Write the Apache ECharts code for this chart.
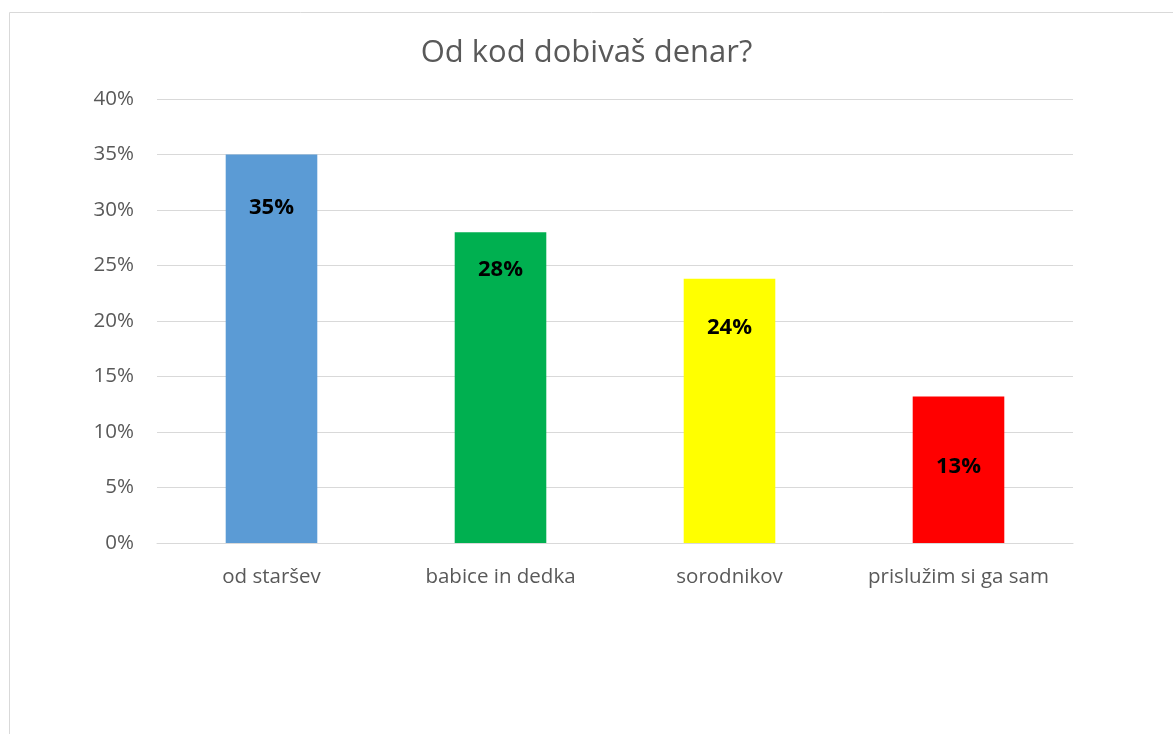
<!DOCTYPE html>
<html>
<head>
<meta charset="utf-8">
<script src="https://cdn.jsdelivr.net/npm/echarts@6/dist/echarts.min.js"></script>
<style>
  html, body { margin: 0; padding: 0; background: #fff; }
  #chart { width: 1173px; height: 734px; }
</style>
</head>
<body>
<div id="chart"></div>
<script>
// podatki
const categories = ["od staršev", "babice in dedka", "sorodnikov", "prislužim si ga sam"];
const shares = [35, 28, 23.8, 13.2];
const shareLabels = ["35%", "28%", "24%", "13%"];
const yTicks = [0, 5, 10, 15, 20, 25, 30, 35, 40];

// barve stolpcev
const barColors = ["#5B9BD5", "#00B050", "#FFFF00", "#FF0000"];
// odmik oznake od vrha stolpca (px)
const labelDrop = [53, 38, 49, 70];

const font = "'Open Sans', 'Noto Sans', sans-serif";
const chart = echarts.init(document.getElementById("chart"));

const option = {
  animation: false,
  textStyle: { fontFamily: font },
  title: {
    text: "Od kod dobivaš denar?",
    left: "center",
    top: 33,
    textStyle: { color: "#595959", fontSize: 31, fontWeight: "normal", fontFamily: font },
  },
  graphic: [{
    type: "rect",
    shape: { x: 9.5, y: 12.5, width: 1300, height: 900 },
    style: { fill: null, stroke: "#d9d9d9", lineWidth: 1 },
    silent: true,
  }],
  grid: { left: 157, right: 100, top: 99, bottom: 191 },
  xAxis: {
    type: "category",
    data: categories,
    axisLine: { show: true, lineStyle: { color: "#d9d9d9", width: 1 } },
    axisTick: { show: false },
    axisLabel: { color: "#595959", fontSize: 20.5, margin: 24, interval: 0, hideOverlap: false, fontFamily: font },
  },
  yAxis: {
    type: "value",
    min: yTicks[0],
    max: yTicks[yTicks.length - 1],
    interval: 5,
    axisLine: { show: false },
    axisTick: { show: false },
    axisLabel: { color: "#595959", fontSize: 20.5, margin: 23, formatter: (v) => v + "%", fontFamily: font },
    splitLine: { lineStyle: { color: "#d9d9d9", width: 1 } },
  },
  series: [{
    type: "bar",
    barWidth: "40%",
    data: shares.map((v, i) => ({
      value: v,
      itemStyle: { color: barColors[i] },
      label: {
        show: true,
        position: ["50%", labelDrop[i]],
        align: "center",
        verticalAlign: "middle",
        formatter: () => shareLabels[i],
        color: "#000",
        fontSize: 22,
        fontWeight: "bold",
        fontFamily: font,
      },
    })),
  }],
};

chart.setOption(option);
</script>
</body>
</html>
